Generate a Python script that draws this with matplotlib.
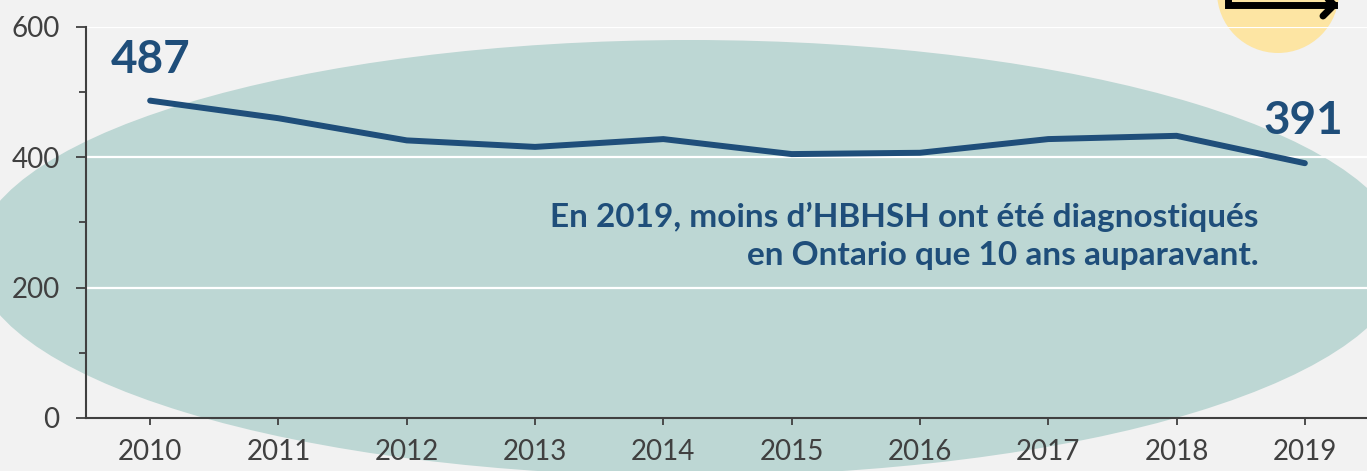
import matplotlib
matplotlib.use("Agg")
import matplotlib.pyplot as plt
from matplotlib.patches import Ellipse, Circle

# données : nombre de diagnostics chez les HBHSH en Ontario
years = [2010, 2011, 2012, 2013, 2014, 2015, 2016, 2017, 2018, 2019]
values = [487, 460, 426, 416, 428, 405, 407, 428, 433, 391]
yticks_major = [0, 200, 400, 600]
yticks_minor = [100, 300, 500]
note_lines = ["En 2019, moins d\u2019HBHSH ont été diagnostiqués",
              "en Ontario que 10 ans auparavant."]

BG = "#f2f2f2"
TEAL = "#bdd7d4"
NAVY = "#1f4e7a"
GREY = "#404040"

plt.rcParams["font.family"] = ["Lato", "DejaVu Sans"]

W, H = 1367, 471
fig = plt.figure(figsize=(W / 100, H / 100), dpi=100, facecolor=BG)

# fond décoratif en pixels
bg = fig.add_axes([0, 0, 1, 1], zorder=-1)
bg.set_xlim(0, W)
bg.set_ylim(H, 0)
bg.axis("off")
bg.add_patch(Ellipse((690, 258), 1430, 436, color=TEAL, lw=0))
bg.add_patch(Circle((1278, -8), 61, color="#fde5a3", lw=0))
bg.plot([1228, 1228, 1334], [-10, 5, 5], color="black", lw=5,
        solid_joinstyle="miter")
bg.plot([1323, 1334, 1323], [-6, 5, 16], color="black", lw=5,
        solid_capstyle="round")

# graphique principal
ax = fig.add_axes([86 / W, 53 / H, 1283 / W, 391 / H], zorder=1)
ax.set_facecolor("none")
ax.plot(years, values, color=NAVY, lw=4.3, solid_capstyle="round",
        solid_joinstyle="round", zorder=3)

ax.set_xlim(2009.5, 2019.5)
ax.set_ylim(0, 600)
ax.set_xticks(years)
ax.set_xticklabels([str(y) for y in years])
ax.set_yticks(yticks_major)
ax.set_yticks(yticks_minor, minor=True)

for v in yticks_major[1:]:
    ax.axhline(v, color="white", lw=1.6, zorder=1)

for s in ["top", "right"]:
    ax.spines[s].set_visible(False)
for s in ["left", "bottom"]:
    ax.spines[s].set_color(GREY)
    ax.spines[s].set_linewidth(1.5)
    ax.spines[s].set_zorder(2)

ax.tick_params(axis="both", which="both", colors=GREY, width=1.3,
               labelsize=20, labelcolor=GREY)
ax.tick_params(axis="y", which="major", length=7, pad=12)
ax.tick_params(axis="y", which="minor", length=5)
ax.tick_params(axis="x", which="major", length=5, pad=10)

# étiquettes des valeurs extrêmes
ax.annotate(str(values[0]), (years[0], values[0]), xytext=(0, 20),
            textcoords="offset points", ha="center", va="baseline",
            fontsize=33, fontweight="bold", color=NAVY)
ax.annotate(str(values[-1]), (years[-1], values[-1]), xytext=(-1, 21),
            textcoords="offset points", ha="center", va="baseline",
            fontsize=33, fontweight="bold", color=NAVY)

ax.text(2018.64, 293, note_lines[0], ha="right", va="baseline",
        fontsize=24, fontweight="bold", color=NAVY)
ax.text(2018.64, 235, note_lines[1], ha="right", va="baseline",
        fontsize=24, fontweight="bold", color=NAVY)

fig.savefig("out.png", dpi=100, facecolor=BG)
